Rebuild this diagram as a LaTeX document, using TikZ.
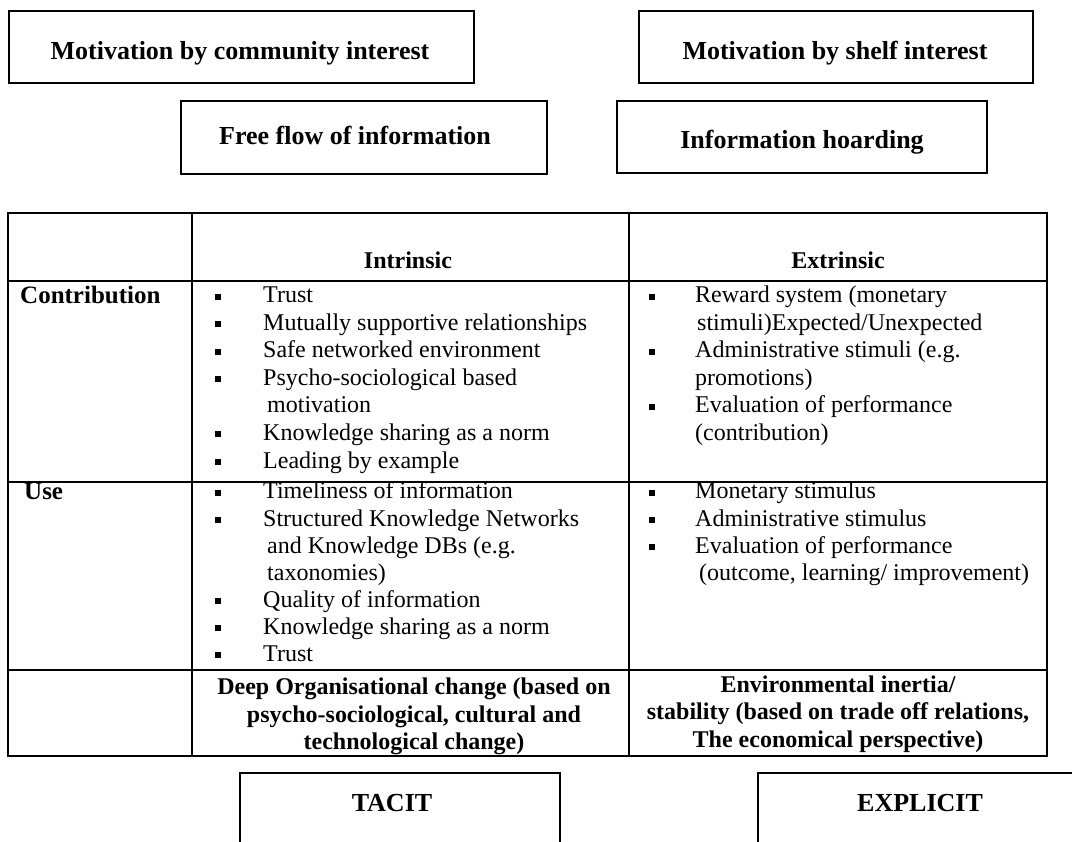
\documentclass[tikz,border=0pt]{standalone}
\usepackage{fontspec}
\setmainfont{Liberation Serif}
\begin{document}
\begin{tikzpicture}[x=1pt,y=-1pt]
\tikzset{
  boxframe/.style={draw=black, line width=1.6pt, inner sep=0pt, anchor=north west},
  btitle/.style={font=\fontsize{26}{30}\selectfont\bfseries, anchor=base, inner sep=0pt},
  body/.style={font=\fontsize{24}{27}\selectfont, anchor=base west, inner sep=0pt},
  bhead/.style={font=\fontsize{24}{27}\selectfont\bfseries, anchor=base, inner sep=0pt},
  rowlab/.style={font=\fontsize{25}{28}\selectfont\bfseries, anchor=base west, inner sep=0pt},
  bul/.style={fill=black, minimum size=6pt, inner sep=0pt},
  tabrule/.style={line width=1.8pt},
  openbox/.style={line width=1.6pt}
}
\useasboundingbox (0,0) rectangle (1072,842);

% top boxes
\node[boxframe, minimum width=465pt, minimum height=72pt] (comm) at (8,10) {};
\node[btitle] (commT) at (240,60) {Motivation by community interest};
\node[boxframe, minimum width=394pt, minimum height=72pt] (shelf) at (638,10) {};
\node[btitle] (shelfT) at (835,60) {Motivation by shelf interest};
\node[boxframe, minimum width=366pt, minimum height=73pt] (free) at (180,100) {};
\node[btitle] (freeT) at (355,145) {Free flow of information};
\node[boxframe, minimum width=370pt, minimum height=72pt] (hoard) at (616,100) {};
\node[btitle] (hoardT) at (802,149) {Information hoarding};

% table grid
\draw[tabrule] (8,213) rectangle (1047,756);
\draw[tabrule] (192,213) -- (192,756);
\draw[tabrule] (629,213) -- (629,756);
\draw[tabrule] (8,281) -- (1047,281);
\draw[tabrule] (8,482) -- (1047,482);
\draw[tabrule] (8,670) -- (1047,670);

% header
\node[bhead] (hI) at (408,269) {Intrinsic};
\node[bhead] (hE) at (838,269) {Extrinsic};

% row labels
\node[rowlab] (rC) at (20,304) {Contribution};
\node[rowlab] (rU) at (24,500) {Use};

% column 1, contribution
\node[bul] (b11) at (218,297) {};
\node[body] (t11) at (263,303) {Trust};
\node[bul] (b12) at (218,324.5) {};
\node[body] (t12) at (263,330.5) {Mutually supportive relationships};
\node[bul] (b13) at (218,352) {};
\node[body] (t13) at (263,358) {Safe networked environment};
\node[bul] (b14) at (218,379.5) {};
\node[body] (t14) at (263,385.5) {Psycho-sociological based};
\node[body] (t15) at (267,413) {motivation};
\node[bul] (b16) at (218,434.5) {};
\node[body] (t16) at (263,440.5) {Knowledge sharing as a norm};
\node[bul] (b17) at (218,462) {};
\node[body] (t17) at (263,468) {Leading by example};

% column 1, use
\node[bul] (b21) at (218,493) {};
\node[body] (t21) at (263,499) {Timeliness of information};
\node[bul] (b22) at (218,520) {};
\node[body] (t22) at (263,526) {Structured Knowledge Networks};
\node[body] (t23) at (267,553) {and Knowledge DBs (e.g.};
\node[body] (t24) at (267,580) {taxonomies)};
\node[bul] (b25) at (218,601) {};
\node[body] (t25) at (263,607) {Quality of information};
\node[bul] (b26) at (218,628) {};
\node[body] (t26) at (263,634) {Knowledge sharing as a norm};
\node[bul] (b27) at (218,655) {};
\node[body] (t27) at (263,661) {Trust};

% column 2, contribution
\node[bul] (b31) at (652,297) {};
\node[body] (t31) at (695,303) {Reward system (monetary};
\node[body] (t32) at (697,330.5) {stimuli)Expected/Unexpected};
\node[bul] (b33) at (652,352) {};
\node[body] (t33) at (695,358) {Administrative stimuli (e.g.};
\node[body] (t34) at (695,385.5) {promotions)};
\node[bul] (b35) at (652,407) {};
\node[body] (t35) at (695,413) {Evaluation of performance};
\node[body] (t36) at (695,440.5) {(contribution)};

% column 2, use
\node[bul] (b41) at (652,493) {};
\node[body] (t41) at (695,499) {Monetary stimulus};
\node[bul] (b42) at (652,520) {};
\node[body] (t42) at (695,526) {Administrative stimulus};
\node[bul] (b43) at (652,547) {};
\node[body] (t43) at (695,553) {Evaluation of performance};
\node[body] (t44) at (699,580) {(outcome, learning/ improvement)};

% last row
\node[bhead] (d1) at (414,694) {Deep Organisational change (based on};
\node[bhead] (d2) at (414,722) {psycho-sociological, cultural and};
\node[bhead] (d3) at (414,749) {technological change)};
\node[bhead] (e1) at (838,692) {Environmental inertia/};
\node[bhead] (e2) at (838,719) {stability (based on trade off relations,};
\node[bhead] (e3) at (838,747) {The economical perspective)};

% bottom open boxes
\draw[openbox] (240,842) -- (240,773) -- (560,773) -- (560,842);
\node[btitle] (tac) at (392,811) {TACIT};
\draw[openbox] (758,842) -- (758,773) -- (1072,773);
\node[btitle] (exp) at (920,811) {EXPLICIT};
\end{tikzpicture}
\end{document}
